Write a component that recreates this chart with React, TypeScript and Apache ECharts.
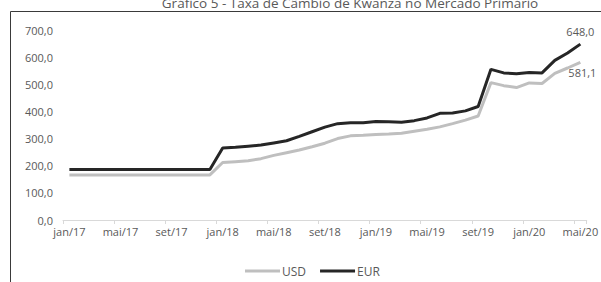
import React, { useEffect, useRef } from "react";
import * as echarts from "echarts";

const months = ["jan", "fev", "mar", "abr", "mai", "jun", "jul", "ago", "set", "out", "nov", "dez"];
const categories: string[] = [];
for (let y = 17; y <= 20; y++) {
  for (let m = 0; m < 12; m++) {
    if (y === 20 && m > 4) break;
    categories.push(`${months[m]}/${y}`);
  }
}

const usd = [
  166, 166, 166, 166, 166, 166, 166, 166, 166, 166, 166, 166,
  212, 215, 218, 226, 238, 248, 258, 270, 283, 300, 310, 312,
  315, 317, 320, 327, 334, 343, 355, 368, 383, 506, 495, 488,
  505, 503, 540, 560, 581.1,
];
const eur = [
  186, 186, 186, 186, 186, 186, 186, 186, 186, 186, 186, 186,
  265, 268, 272, 276, 284, 292, 308, 325, 342, 355, 358, 358,
  363, 362, 360, 366, 376, 393, 394, 402, 418, 555, 542, 539,
  543, 542, 588, 615, 648.0,
];

const yTicks = [0, 100, 200, 300, 400, 500, 600, 700];

const fmt = (v: number) => v.toFixed(1).replace(".", ",");

function withEndLabel(values: number[], position: string, offset: number[]) {
  return values.map((v, i) =>
    i === values.length - 1
      ? {
          value: v,
          label: {
            show: true,
            position,
            distance: 5,
            offset,
            formatter: fmt(v),
            color: "#595959",
            fontSize: 11,
            fontFamily: "Open Sans",
          },
        }
      : v
  );
}

export default function App() {
  const ref = useRef<HTMLDivElement>(null);
  useEffect(() => {
    document.body.style.margin = "0";
    if (!ref.current) return;
    const chart = echarts.init(ref.current, undefined, { renderer: "svg" });
    chart.setOption({
      animation: false,
      backgroundColor: "#ffffff",
      textStyle: { fontFamily: "Open Sans" },
      graphic: [
        {
          type: "rect",
          shape: { x: 10.5, y: 11.5, width: 700, height: 400 },
          style: { fill: "none", stroke: "#3a3a3a", lineWidth: 1 },
          silent: true,
        },
        {
          type: "text",
          x: 350,
          y: 10,
          style: {
            text: "Gráfico 5 - Taxa de Câmbio de Kwanza no Mercado Primário",
            align: "center",
            verticalAlign: "bottom",
            fontSize: 13.5,
            fontFamily: "Open Sans",
            fill: "#595959",
          },
        },
      ],
      legend: {
        left: 240,
        top: 260,
        itemWidth: 35,
        itemHeight: 3,
        itemGap: 14,
        icon: "rect",
        textStyle: { color: "#595959", fontSize: 12, fontFamily: "Open Sans", padding: [0, 0, 0, -3] },
        data: ["USD", "EUR"],
      },
      grid: { left: 63, right: -2, top: 30, bottom: 62, containLabel: false },
      xAxis: {
        type: "category",
        data: categories,
        boundaryGap: true,
        axisLine: { lineStyle: { color: "#d9d9d9", width: 1 } },
        axisTick: { show: true, interval: 3, length: 4, lineStyle: { color: "#d9d9d9" } },
        axisLabel: {
          interval: 3,
          color: "#595959",
          fontSize: 11,
          margin: 6,
          fontFamily: "Open Sans",
        },
      },
      yAxis: {
        type: "value",
        min: yTicks[0],
        max: yTicks[yTicks.length - 1],
        interval: 100,
        axisLine: { show: false },
        axisTick: { show: false },
        splitLine: { show: false },
        axisLabel: {
          color: "#595959",
          fontSize: 11,
          margin: 10,
          fontFamily: "Open Sans",
          formatter: (v: number) => fmt(v),
        },
      },
      series: [
        {
          name: "USD",
          type: "line",
          data: withEndLabel(usd, "bottom", [2, 0]),
          showSymbol: true,
          symbol: "circle",
          symbolSize: 0,
          lineStyle: { color: "#bfbfbf", width: 3 },
          itemStyle: { color: "#bfbfbf" },
          z: 2,
        },
        {
          name: "EUR",
          type: "line",
          data: withEndLabel(eur, "top", [0, -2]),
          showSymbol: true,
          symbol: "circle",
          symbolSize: 0,
          lineStyle: { color: "#262626", width: 3 },
          itemStyle: { color: "#262626" },
          z: 3,
        },
      ],
    });
    return () => chart.dispose();
  }, []);
  return <div ref={ref} style={{ width: 601, height: 282 }} />;
}
